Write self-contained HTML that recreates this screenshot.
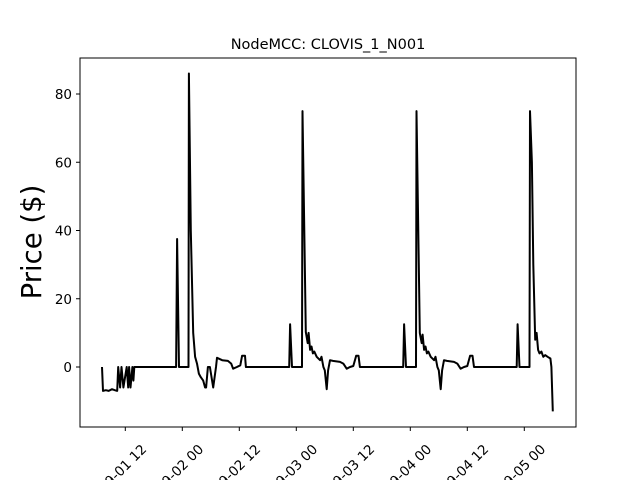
<!DOCTYPE html>
<html><head><meta charset="utf-8"><style>
html,body{margin:0;background:#fff;width:640px;height:480px;overflow:hidden;}
svg{display:block;font-family:"DejaVu Sans","Liberation Sans",sans-serif;}
</style></head><body>
<svg id="chart" width="640" height="480" viewBox="0 0 640 480" xmlns="http://www.w3.org/2000/svg" overflow="hidden">
<rect width="640" height="480" fill="#fff"/>
<text x="328" y="49" font-size="14.5" text-anchor="middle">NodeMCC: CLOVIS_1_N001</text>
<text x="0" y="0" font-size="27.5" text-anchor="middle" transform="translate(41,242) rotate(-90)">Price ($)</text>
<g id="grid"></g>
<path id="series" fill="none" stroke="#000" stroke-width="2" stroke-linejoin="round"/>
<rect x="80" y="58" width="496" height="369" fill="none" stroke="#000" stroke-width="1"/>
</svg>
<script>
const times = [7.1,7.3,7.9,8.5,9.2,9.8,10.3,10.5,10.9,11.2,11.6,12.3,12.6,12.8,13.1,13.5,13.7,13.9,
22.7,22.9,23.3,25.3,25.4,25.8,26.3,26.7,27.1,27.5,27.9,28.4,28.8,29.0,29.4,29.8,30.5,31.1,31.3,32.4,33.6,34.3,34.7,35.5,36.2,36.6,37.2,37.4,
46.5,46.7,47.1,49.2,49.3,50.0,50.4,50.6,50.9,51.2,51.5,51.8,52.3,53.0,53.3,53.7,54.0,54.4,54.7,55.1,55.7,57.2,57.9,58.6,59.3,60.0,60.6,61.1,61.4,
70.5,70.7,71.1,73.2,73.3,74.0,74.4,74.6,74.9,75.2,75.5,75.8,76.3,77.0,77.3,77.7,78.0,78.4,78.7,79.1,79.7,81.2,81.9,82.6,83.3,84.0,84.6,85.1,85.4,
94.4,94.6,95.0,97.1,97.2,97.6,97.9,98.3,98.6,98.9,99.2,99.6,100.0,100.4,100.9,101.5,101.7,102.0];
const prices = [0,-7,-6.8,-7,-6.5,-6.8,-7,0,-6,0,-6,0,-6,0,-6,0,-4,0,
0,37.5,0,0,86,40,10,3,1,-2,-3,-4,-6,-6,0,0,-6,0,2.7,2,1.8,1,-0.5,0,0.5,3.3,3.3,0,
0,12.5,0,0,75,10.3,7,10,5,6,4,4.5,3,2,3,0,-1,-6.5,-1,2,1.8,1.5,1,-0.5,0,0.3,3.3,3.3,0,
0,12.5,0,0,75,10,7,9.5,5,6,4,4.5,3,2,3,0,-1,-6.5,-1,2,1.8,1.5,1,-0.5,0,0.3,3.3,3.3,0,
0,12.5,0,0,75,60,30,8,10,5,4,4.5,3,3.5,3,2.5,0,-13];
const yTicks = [0,20,40,60,80];
const xTickHours = [12,24,36,48,60,72,84,96];
const xTickLabels = ["2020-09-01 12","2020-09-02 00","2020-09-02 12","2020-09-03 00","2020-09-03 12","2020-09-04 00","2020-09-04 12","2020-09-05 00"];

const NS="http://www.w3.org/2000/svg";
const xs = h => 68.3 + h*4.75;
const ys = v => 367 - v*3.4125;
const g=document.getElementById('grid');
function mk(tag,attrs){const e=document.createElementNS(NS,tag);for(const k in attrs)e.setAttribute(k,attrs[k]);return e;}
yTicks.forEach(v=>{
  const l=mk('line',{x1:76,x2:80,y1:ys(v),y2:ys(v),stroke:'#000'});
  
  
  g.appendChild(l);
  const t=mk('text',{x:72,y:ys(v)+5,'font-size':13.5,'text-anchor':'end'});
  
  
  t.textContent=v;g.appendChild(t);
});
xTickHours.forEach((h,i)=>{
  const x=xs(h);
  const l=mk('line',{x1:x,x2:x,y1:427,y2:431,stroke:'#000'});
  
  
  g.appendChild(l);
  const t=mk('text',{x:0,y:0,'font-size':13.5,'text-anchor':'end',transform:`translate(${x+22},${450}) rotate(-45)`});
  
  
  t.textContent=xTickLabels[i];g.appendChild(t);
});
document.getElementById('series').setAttribute('d',times.map((h,i)=>(i?'L':'M')+xs(h).toFixed(1)+','+ys(prices[i]).toFixed(1)).join(''));
</script>
</body></html>
